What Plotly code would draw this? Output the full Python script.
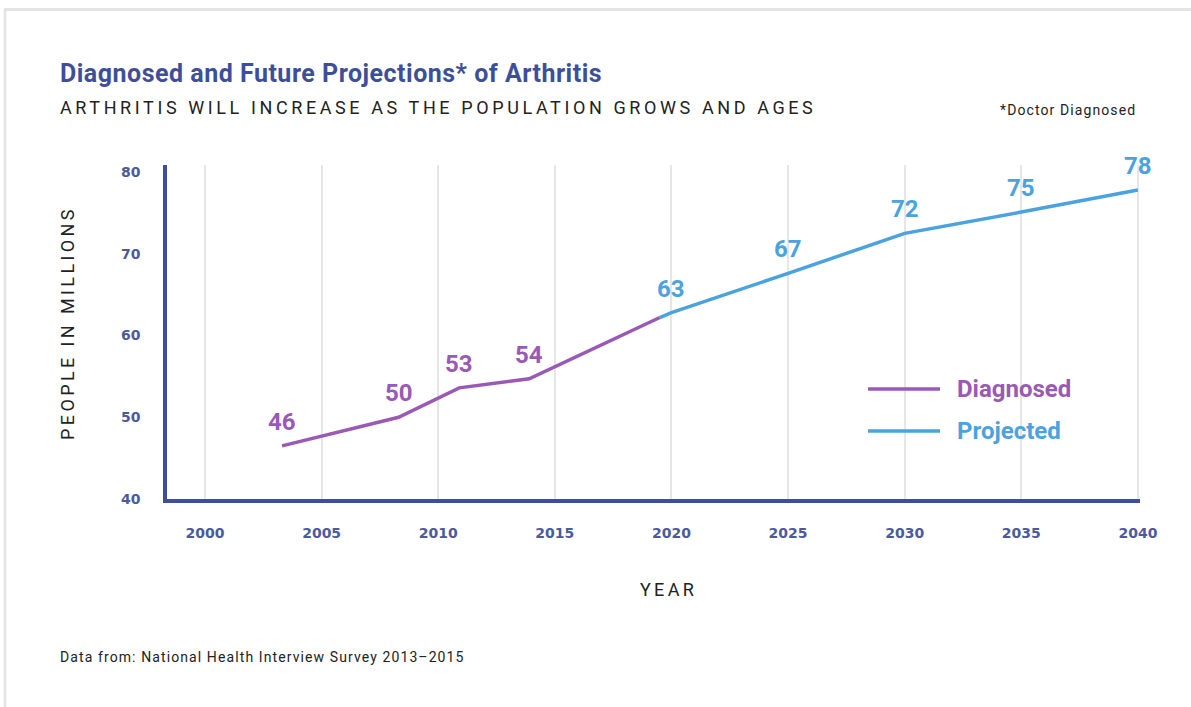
import plotly.graph_objects as go

# ---- data ----
diag_years = [2003.3, 2008.3, 2010.9, 2013.9, 2019.5]
diag_values = [46.5, 50.0, 53.6, 54.7, 62.2]
proj_years = [2019.5, 2020, 2025, 2030, 2035, 2040]
proj_values = [62.2, 62.8, 67.6, 72.5, 75.1, 77.8]

label_years = [2003.3, 2008.3, 2010.9, 2013.9, 2020, 2025, 2030, 2035, 2040]
label_values = [46.5, 50.0, 53.6, 54.7, 62.8, 67.6, 72.5, 75.1, 77.8]
label_texts = ["46", "50", "53", "54", "63", "67", "72", "75", "78"]
label_series = ["d", "d", "d", "d", "p", "p", "p", "p", "p"]

x_ticks = [2000, 2005, 2010, 2015, 2020, 2025, 2030, 2035, 2040]
y_ticks = [40, 50, 60, 70, 80]

PURPLE = "#9b59b6"
BLUE = "#4aa3df"
NAVY = "#3d4f9a"
TICK = "#4b5a9c"

W, H = 1191, 707
L, R, T, B = 167, 1140, 165, 499


def px(x):
    return (x - L) / (R - L)


def py(y):
    return (B - y) / (B - T)


def spaced(text, sp):
    return '<span style="letter-spacing:%spx">%s</span>' % (sp, text)


fig = go.Figure()

fig.add_trace(go.Scatter(x=diag_years, y=diag_values, mode="lines",
                         line=dict(color=PURPLE, width=3.5), name="Diagnosed",
                         hoverinfo="skip"))
fig.add_trace(go.Scatter(x=proj_years, y=proj_values, mode="lines",
                         line=dict(color=BLUE, width=3.5), name="Projected",
                         hoverinfo="skip"))

annotations = []
for xv, yv, t, s in zip(label_years, label_values, label_texts, label_series):
    annotations.append(dict(x=xv, y=yv, xref="x", yref="y", text=t, showarrow=False,
                            yshift=24,
                            font=dict(family="Roboto", size=24, weight="bold",
                                      color=PURPLE if s == "d" else BLUE)))

# titles and notes
annotations += [
    dict(x=px(58), y=py(73), xref="paper", yref="paper", xanchor="left", yanchor="middle",
         text=spaced("Diagnosed and Future Projections* of Arthritis", 0.5), showarrow=False,
         font=dict(family="Roboto", size=25, weight="bold", color=NAVY)),
    dict(x=px(58), y=py(107), xref="paper", yref="paper", xanchor="left", yanchor="middle",
         text=spaced("ARTHRITIS WILL INCREASE AS THE POPULATION GROWS AND AGES", 3.6),
         showarrow=False,
         font=dict(family="Roboto", size=18, color="#222222")),
    dict(x=px(1138), y=py(110), xref="paper", yref="paper", xanchor="right", yanchor="middle",
         text=spaced("*Doctor Diagnosed", 1.1), showarrow=False,
         font=dict(family="Roboto", size=14, color="#222222")),
    dict(x=px(67), y=py(323), xref="paper", yref="paper", xanchor="center", yanchor="middle",
         text=spaced("PEOPLE IN MILLIONS", 3.4), textangle=-90, showarrow=False,
         font=dict(family="Roboto", size=18, color="#222222")),
    dict(x=px(668), y=py(589), xref="paper", yref="paper", xanchor="center", yanchor="middle",
         text=spaced("YEAR", 3.3), showarrow=False,
         font=dict(family="Roboto", size=18, color="#222222")),
    dict(x=px(58), y=py(657), xref="paper", yref="paper", xanchor="left", yanchor="middle",
         text=spaced("Data from: National Health Interview Survey 2013\u20132015", 1.1),
         showarrow=False,
         font=dict(family="Roboto", size=14, color="#222222")),
    dict(x=px(955), y=py(389), xref="paper", yref="paper", xanchor="left", yanchor="middle",
         text="Diagnosed", showarrow=False,
         font=dict(family="Roboto", size=24, weight="bold", color=PURPLE)),
    dict(x=px(955), y=py(431), xref="paper", yref="paper", xanchor="left", yanchor="middle",
         text="Projected", showarrow=False,
         font=dict(family="Roboto", size=24, weight="bold", color=BLUE)),
]

shapes = [
    # legend lines
    dict(type="line", xref="paper", yref="paper", x0=px(868), x1=px(940), y0=py(389), y1=py(389),
         line=dict(color=PURPLE, width=3.5)),
    dict(type="line", xref="paper", yref="paper", x0=px(868), x1=px(940), y0=py(431), y1=py(431),
         line=dict(color=BLUE, width=3.5)),
    # card frame
    dict(type="line", xref="paper", yref="paper", x0=px(4), x1=px(1200), y0=py(9.5), y1=py(9.5),
         line=dict(color="#e4e4e4", width=3), layer="below"),
    dict(type="line", xref="paper", yref="paper", x0=px(5), x1=px(5), y0=py(9), y1=py(720),
         line=dict(color="#e4e4e4", width=2.5), layer="below"),
]

fig.update_layout(
    width=W, height=H,
    margin=dict(l=L, r=W - R, t=T, b=H - B, autoexpand=False),
    paper_bgcolor="white", plot_bgcolor="white",
    showlegend=False,
    annotations=annotations,
    shapes=shapes,
    xaxis=dict(range=[1998.37, 2040.09], tickmode="array", tickvals=x_ticks,
               showgrid=True, gridcolor="#e6e6e6", gridwidth=1.5,
               showline=True, linecolor=NAVY, linewidth=3.5,
               zeroline=False, ticks="", ticklabelstandoff=18,
               tickfont=dict(family="DejaVu Sans", size=14, weight="bold", color=TICK)),
    yaxis=dict(range=[40, 80.86], tickmode="array", tickvals=y_ticks,
               showgrid=False, showline=True, linecolor=NAVY, linewidth=3.5,
               zeroline=False, ticks="", ticklabelstandoff=20,
               tickfont=dict(family="DejaVu Sans", size=14, weight="bold", color=TICK)),
)

fig.write_html("out.html", config={"displayModeBar": False},
               post_script="document.body.style.margin='0';document.body.style.padding='0';")
